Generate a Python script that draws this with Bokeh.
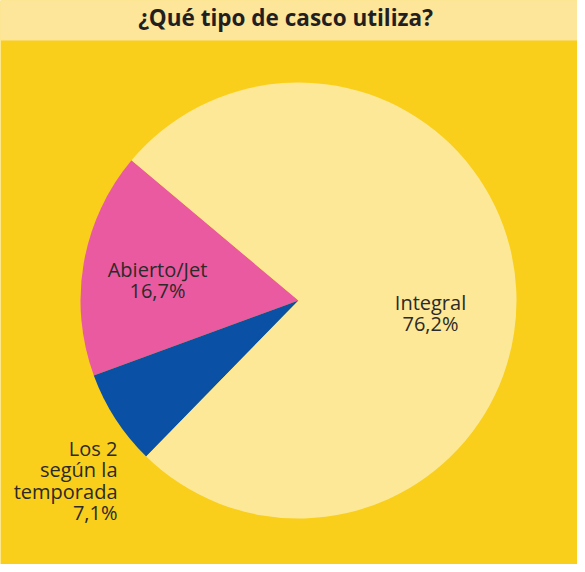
import numpy as np
from bokeh.plotting import figure
from bokeh.models import Range1d, ColumnDataSource
from bokeh.embed import file_html
from bokeh.resources import INLINE
from bokeh.core.properties import value

# ---- data ----
title_text = "¿Qué tipo de casco utiliza?"
categories = ["Abierto/Jet", "Los 2 según la temporada", "Integral"]
shares = [16.7, 7.1, 76.2]
label_texts = ["Abierto/Jet\n16,7%", "Los 2\nsegún la\ntemporada\n7,1%", "Integral\n76,2%"]
colors = ["#EA5AA0", "#0A50A4", "#FDE897"]

# ---- layout ----
W, H = 577, 564
def px(x, y):
    # reference-image pixel -> data coordinate
    return x - 8, 572 - y

FONT = "Open Sans"
TEXT_COLOR = "#2B2A29"

p = figure(width=W, height=H, x_range=Range1d(0, W), y_range=Range1d(0, H),
           output_backend="svg", toolbar_location=None, min_border=0,
           x_axis_location=None, y_axis_location=None)
p.grid.visible = False
p.outline_line_color = None
p.background_fill_color = "#F9CF1C"
p.border_fill_color = "#F9CF1C"

# title band
bx0, by0 = px(0, 48)
bx1, by1 = px(600, 0)
p.quad(left=bx0, right=bx1, bottom=by0, top=by1, fill_color="#FDE59A", line_color=None)
tx, ty = px(293, 25)
p.text(x=[tx], y=[ty], text=[title_text], text_font=value(FONT), text_font_style="bold",
       text_font_size="22.5px", text_align="center", text_baseline="middle", text_color="#231F20")

# pie
cx, cy = px(306, 308)
R = 218
start_deg = 140.0
fr = np.array(shares) / sum(shares)
ends = np.radians(start_deg) + np.cumsum(fr) * 2 * np.pi
starts = np.concatenate([[np.radians(start_deg)], ends[:-1]])
src = ColumnDataSource(dict(cat=categories, start=starts, end=ends, color=colors))
p.wedge(x=cx, y=cy, radius=R, start_angle="start", end_angle="end", direction="anticlock",
        fill_color="color", line_color=None, source=src)

# labels
pos = [px(165, 287.5), px(125, 488), px(438, 320.5)]
aligns = ["center", "right", "center"]
for (lx, ly), t, a in zip(pos, label_texts, aligns):
    p.text(x=[lx], y=[ly], text=[t], text_font=value(FONT), text_font_size="20px",
           text_align=a, text_baseline="middle", text_color=TEXT_COLOR, text_line_height=0.8)

open("out.html", "w").write(file_html(p, INLINE))
